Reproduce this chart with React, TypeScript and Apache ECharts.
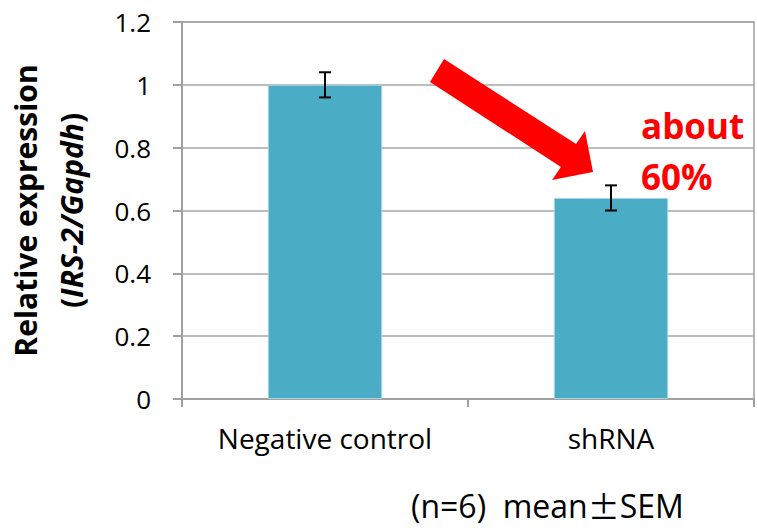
import React, { useEffect, useRef } from "react";
import * as echarts from "echarts";

const categories = ["Negative control", "shRNA"];
const values = [1.0, 0.64];
const sem = [0.04, 0.04];
const yTicks = { min: 0, max: 1.2, interval: 0.2 };
const noteLines = ["about", "60%"];
const footnoteParts = ["(n=6)  mean", "\u00b1", "SEM"];

const FONT = "'Open Sans', 'Noto Sans', sans-serif";
const CJK = "'Noto Sans CJK JP', sans-serif";

export default function App() {
  const ref = useRef<HTMLDivElement>(null);
  useEffect(() => {
    if (!ref.current) return;
    const chart = echarts.init(ref.current, null, { renderer: "svg" });
    const errData = values.map((v, i) => [i, v - sem[i], v + sem[i]]);
    const titleRich = {
      fontSize: 30,
      fontWeight: "bold",
      fontFamily: FONT,
      lineHeight: 46,
      color: "#000",
    };
    chart.setOption({
      animation: false,
      textStyle: { fontFamily: FONT },
      grid: {
        left: 182,
        top: 22,
        right: 3,
        bottom: 133,
        outerBoundsMode: "none",
        containLabel: false,
        show: true,
        borderColor: "#a0a0a0",
        borderWidth: 1.5,
      },
      xAxis: {
        type: "category",
        data: categories,
        axisLine: { lineStyle: { color: "#a0a0a0", width: 2 } },
        axisTick: { show: true, length: 8, lineStyle: { color: "#a0a0a0", width: 2 } },
        axisLabel: { color: "#000", fontSize: 28, margin: 25, fontFamily: FONT },
      },
      yAxis: {
        type: "value",
        min: yTicks.min,
        max: yTicks.max,
        interval: yTicks.interval,
        axisLine: { show: true, lineStyle: { color: "#a0a0a0", width: 2 } },
        axisTick: { show: true, length: 9, lineStyle: { color: "#a0a0a0", width: 2 } },
        axisLabel: { color: "#000", fontSize: 26, margin: 31, fontFamily: FONT },
        splitLine: { lineStyle: { color: "#a6a6a6", width: 1.5 } },
        name: "{n|Relative expression}\n{n|(}{i|IRS-2/Gapdh}{n|)}",
        nameLocation: "middle",
        nameRotate: 90,
        nameGap: 88,
        nameTextStyle: {
          ...titleRich,
          rich: {
            n: { ...titleRich },
            i: { ...titleRich, fontStyle: "italic" },
          },
        },
      },
      series: [
        {
          type: "bar",
          data: values,
          barWidth: "40%",
          itemStyle: { color: "#4bacc6", borderColor: "#a8d6e2", borderWidth: 1 },
          z: 2,
        },
        {
          type: "custom",
          data: errData,
          z: 5,
          renderItem: (params: any, api: any) => {
            const x = api.value(0);
            const lo = api.coord([x, api.value(1)]);
            const hi = api.coord([x, api.value(2)]);
            const cap = 6;
            const style = { stroke: "#000", lineWidth: 2 };
            return {
              type: "group",
              children: [
                { type: "line", shape: { x1: lo[0], y1: lo[1], x2: hi[0], y2: hi[1] }, style },
                { type: "line", shape: { x1: hi[0] - cap, y1: hi[1], x2: hi[0] + cap, y2: hi[1] }, style },
                { type: "line", shape: { x1: lo[0] - cap, y1: lo[1], x2: lo[0] + cap, y2: lo[1] }, style },
              ],
            };
          },
        },
      ],
      graphic: [
        {
          type: "polygon",
          shape: {
            points: [
              [444, 59],
              [576, 144],
              [585, 131],
              [593, 172],
              [552, 180],
              [561, 167],
              [430, 82],
            ],
          },
          style: { fill: "#ff0000" },
          z: 10,
        },
        {
          type: "text",
          left: 641,
          top: 100,
          style: {
            text: noteLines.join("\n"),
            fill: "#ff0000",
            font: `bold 35px ${FONT}`,
            lineHeight: 51,
          },
          z: 10,
        },
        {
          type: "text",
          left: 411,
          top: 489,
          style: {
            text: `{a|${footnoteParts[0]}}{b|${footnoteParts[1]}}{a|${footnoteParts[2]}}`,
            rich: {
              a: { fontFamily: FONT, fontSize: 32, fill: "#000" },
              b: { fontFamily: CJK, fontSize: 32, fill: "#000" },
            },
          },
          z: 10,
        },
      ],
    });
    return () => chart.dispose();
  }, []);
  return <div ref={ref} style={{ width: 757, height: 532, position: "absolute", left: 0, top: 0 }} />;
}
